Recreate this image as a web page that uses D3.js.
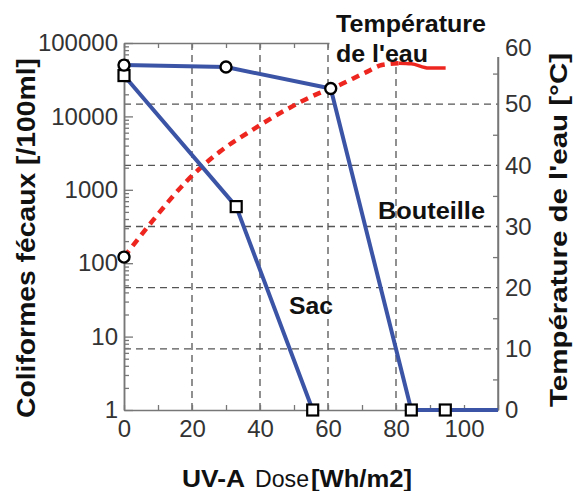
<!DOCTYPE html>
<html>
<head>
<meta charset="utf-8">
<script src="https://cdn.jsdelivr.net/npm/d3@7"></script>
<style>
  body { margin: 0; background: #fff; }
  svg { display: block; font-family: "Liberation Sans", Arial, sans-serif; }
</style>
</head>
<body>
<svg id="chart"></svg>
<script>
// tick labels
let doseTicks = [0, 20, 40, 60, 80, 100];
let countTicks = [1, 10, 100, 1000, 10000, 100000];
let tempTicks = [0, 10, 20, 30, 40, 50, 60];

// Sac (bag)
let sacDose = [0, 33, 55.5];
let sacCount = [36000, 590, 1];
let sacMarker = ['square', 'square', 'square'];

// Bouteille (bottle)
let bouteilleDose = [0, 30, 60.8, 84.5, 94.5, 110];
let bouteilleCount = [50000, 47000, 24000, 1, 1, 1];
let bouteilleMarker = ['circle', 'circle', 'circle', 'square', 'square', null];

// water temperature
let tempDose = [0, 8.5, 18.4, 28.1, 37.8, 47.7, 57.4, 61.2, 71.1, 75.8, 80.8, 84.5, 89.6, 94.6];
let tempValue = [25, 31, 37.4, 42.2, 45.8, 49.1, 51.8, 52.6, 55.2, 56.4, 56.7, 56.6, 55.9, 55.9];
let tempSolidFrom = 80.8;

let width = 580;
let height = 491;
let padLeft = 124, padRight = 498, padTop = 43, padBottom = 410;

let blue = '#3c54a5';
let red = '#ee2620';

let svg = d3.select('#chart').attr('width', width).attr('height', height);

let xScale = d3.scaleLinear().domain([0, 110]).range([padLeft, padRight]);
let yScale = d3.scaleLog().domain([1, 100000]).range([padBottom, padTop]);
let tScale = d3.scaleLinear().domain([0, 60]).range([padBottom, padTop]);

// dashed grid (temperature lines + dose lines)
let grid = svg.append('g')
grid.selectAll('line.h')
    .data(tempTicks.filter(t => t > 0 && t < 60))
    .enter().append('line')
    .attr('x1', padLeft).attr('x2', padRight)
    .attr('y1', d => tScale(d)).attr('y2', d => tScale(d))
grid.selectAll('line.v')
    .data(doseTicks.filter(t => t > 0 && t < 100))
    .enter().append('line')
    .attr('x1', d => xScale(d)).attr('x2', d => xScale(d))
    .attr('y1', padTop).attr('y2', padBottom)
grid.selectAll('line')
    .attr('stroke', '#555')
    .attr('stroke-width', 1.3)
    .attr('stroke-dasharray', '7,5')

let styleAxis = (g) => {
    g.select('.domain').attr('stroke', '#777').attr('stroke-width', 1.5)
    g.selectAll('.tick line').attr('stroke', '#777').attr('stroke-width', 1.3)
    g.selectAll('.tick text')
        .attr('fill', '#333')
        .style('font-size', '24px')
        .style('font-family', '"Liberation Sans", Arial, sans-serif')
}

// top and bottom frame ticks
let minorDose = d3.range(0, 111, 10)
svg.append('g')
    .attr('transform', 'translate(0,' + padTop + ')')
    .call(d3.axisTop(xScale).tickValues(minorDose).tickSizeInner(-5).tickSizeOuter(0).tickFormat(''))
    .call(styleAxis)

svg.append('g')
    .attr('transform', 'translate(0,' + padBottom + ')')
    .call(d3.axisBottom(xScale).tickValues(minorDose).tickSizeInner(-5).tickSizeOuter(0).tickFormat(''))
    .call(styleAxis)

// left log axis: minor ticks
let minorCounts = []
for (let p = 0; p < 5; p++) {
    for (let m = 2; m <= 9; m++) minorCounts.push(m * Math.pow(10, p))
}
svg.append('g')
    .attr('transform', 'translate(' + padLeft + ',0)')
    .call(d3.axisLeft(yScale).tickValues(minorCounts).tickSizeInner(-5).tickSizeOuter(0).tickFormat(''))
    .call(styleAxis)

// right axis minor ticks
svg.append('g')
    .attr('transform', 'translate(' + padRight + ',0)')
    .call(d3.axisRight(tScale).tickValues(d3.range(5, 60, 10)).tickSizeInner(-5).tickSizeOuter(0).tickFormat(''))
    .call(styleAxis)

// white box behind the temperature title
svg.append('rect')
    .attr('x', xScale(60) + 1.5).attr('y', 0)
    .attr('width', width - xScale(60)).attr('height', 57)
    .attr('fill', '#fff')

// left axis labels + major ticks
svg.append('g')
    .attr('transform', 'translate(' + padLeft + ',0)')
    .call(d3.axisLeft(yScale).tickValues(countTicks).tickSizeInner(-9).tickSizeOuter(0)
        .tickPadding(6).tickFormat(d3.format('d')))
    .call(styleAxis)

// bottom labels
svg.append('g')
    .attr('transform', 'translate(0,' + padBottom + ')')
    .call(d3.axisBottom(xScale).tickValues(doseTicks).tickSize(0).tickPadding(10))
    .call(styleAxis)
    .call(g => g.select('.domain').remove())

// right labels
let rightAxis = svg.append('g')
    .attr('transform', 'translate(' + padRight + ',0)')
    .call(d3.axisRight(tScale).tickValues(tempTicks).tickSize(0).tickPadding(7))
    .call(styleAxis)
rightAxis.select('.domain').attr('d', 'M0,57V' + padBottom)
rightAxis.selectAll('.tick')
    .filter(d => d == 60)
    .attr('transform', 'translate(0,' + (tScale(60) + 5) + ')')

// temperature curve
let tempPts = tempDose.map((d, i) => [d, tempValue[i]])
let tLine = d3.line().x(d => xScale(d[0])).y(d => tScale(d[1])).curve(d3.curveMonotoneX)
svg.append('path')
    .datum(tempPts.filter(d => d[0] <= tempSolidFrom))
    .attr('d', tLine)
    .attr('fill', 'none')
    .attr('stroke', red)
    .attr('stroke-width', 4.5)
    .attr('stroke-dasharray', '8,6')
svg.append('path')
    .datum(tempPts.filter(d => d[0] >= tempSolidFrom))
    .attr('d', tLine)
    .attr('fill', 'none')
    .attr('stroke', red)
    .attr('stroke-width', 3.5)

// coliform curves
let cLine = d3.line().x(d => xScale(d.dose)).y(d => yScale(d.count))
let sacPts = sacDose.map((d, i) => ({dose: d, count: sacCount[i], marker: sacMarker[i]}))
let boutPts = bouteilleDose.map((d, i) => ({dose: d, count: bouteilleCount[i], marker: bouteilleMarker[i]}))

svg.selectAll('path.series')
    .data([boutPts, sacPts])
    .enter().append('path')
    .attr('d', cLine)
    .attr('fill', 'none')
    .attr('stroke', blue)
    .attr('stroke-width', 4)
    .attr('stroke-linejoin', 'round')

// markers
let markerPts = sacPts.concat(boutPts).filter(d => d.marker)
markerPts.push({dose: tempDose[0], count: yScale.invert(tScale(tempValue[0])), marker: 'circle'})

svg.selectAll('rect.mk')
    .data(markerPts.filter(d => d.marker == 'square'))
    .enter().append('rect')
    .attr('x', d => xScale(d.dose) - 5.5)
    .attr('y', d => yScale(d.count) - 5.5)
    .attr('width', 11).attr('height', 11)
    .attr('fill', '#fff').attr('stroke', '#000').attr('stroke-width', 2.2)

svg.selectAll('circle.mk')
    .data(markerPts.filter(d => d.marker == 'circle'))
    .enter().append('circle')
    .attr('cx', d => xScale(d.dose))
    .attr('cy', d => yScale(d.count))
    .attr('r', 5.5)
    .attr('fill', '#fff').attr('stroke', '#000').attr('stroke-width', 2.4)

// labels
let bold = (sel) => sel.attr('font-weight', 'bold').attr('fill', '#111')
let label = (txt, x, y, len, weight) => {
    svg.append('text').attr('x', x).attr('y', y).attr('font-size', 24).call(bold)
        .attr('font-weight', weight || 'bold')
        .attr('textLength', len).attr('lengthAdjust', 'spacingAndGlyphs').text(txt)
}
label('Température', 336, 32, 150)
label("de l'eau", 336, 62, 92)
label('Bouteille', 378, 219, 107)
label('Sac', 289, 314, 44)

// axis titles
svg.append('text')
    .attr('transform', 'translate(35,238) rotate(-90)')
    .attr('text-anchor', 'middle')
    .attr('font-size', 25).call(bold)
    .attr('textLength', 360).attr('lengthAdjust', 'spacingAndGlyphs')
    .text('Coliformes fécaux  [/100ml]')

svg.append('text')
    .attr('transform', 'translate(567,230) rotate(-90)')
    .attr('text-anchor', 'middle')
    .attr('font-size', 24).call(bold)
    .attr('textLength', 354).attr('lengthAdjust', 'spacingAndGlyphs')
    .text("Température de l'eau [°C]")

label('UV-A', 182, 487, 63)
label('Dose', 255, 487, 54, 'normal')
label('[Wh/m2]', 311, 487, 101)
</script>
</body>
</html>
